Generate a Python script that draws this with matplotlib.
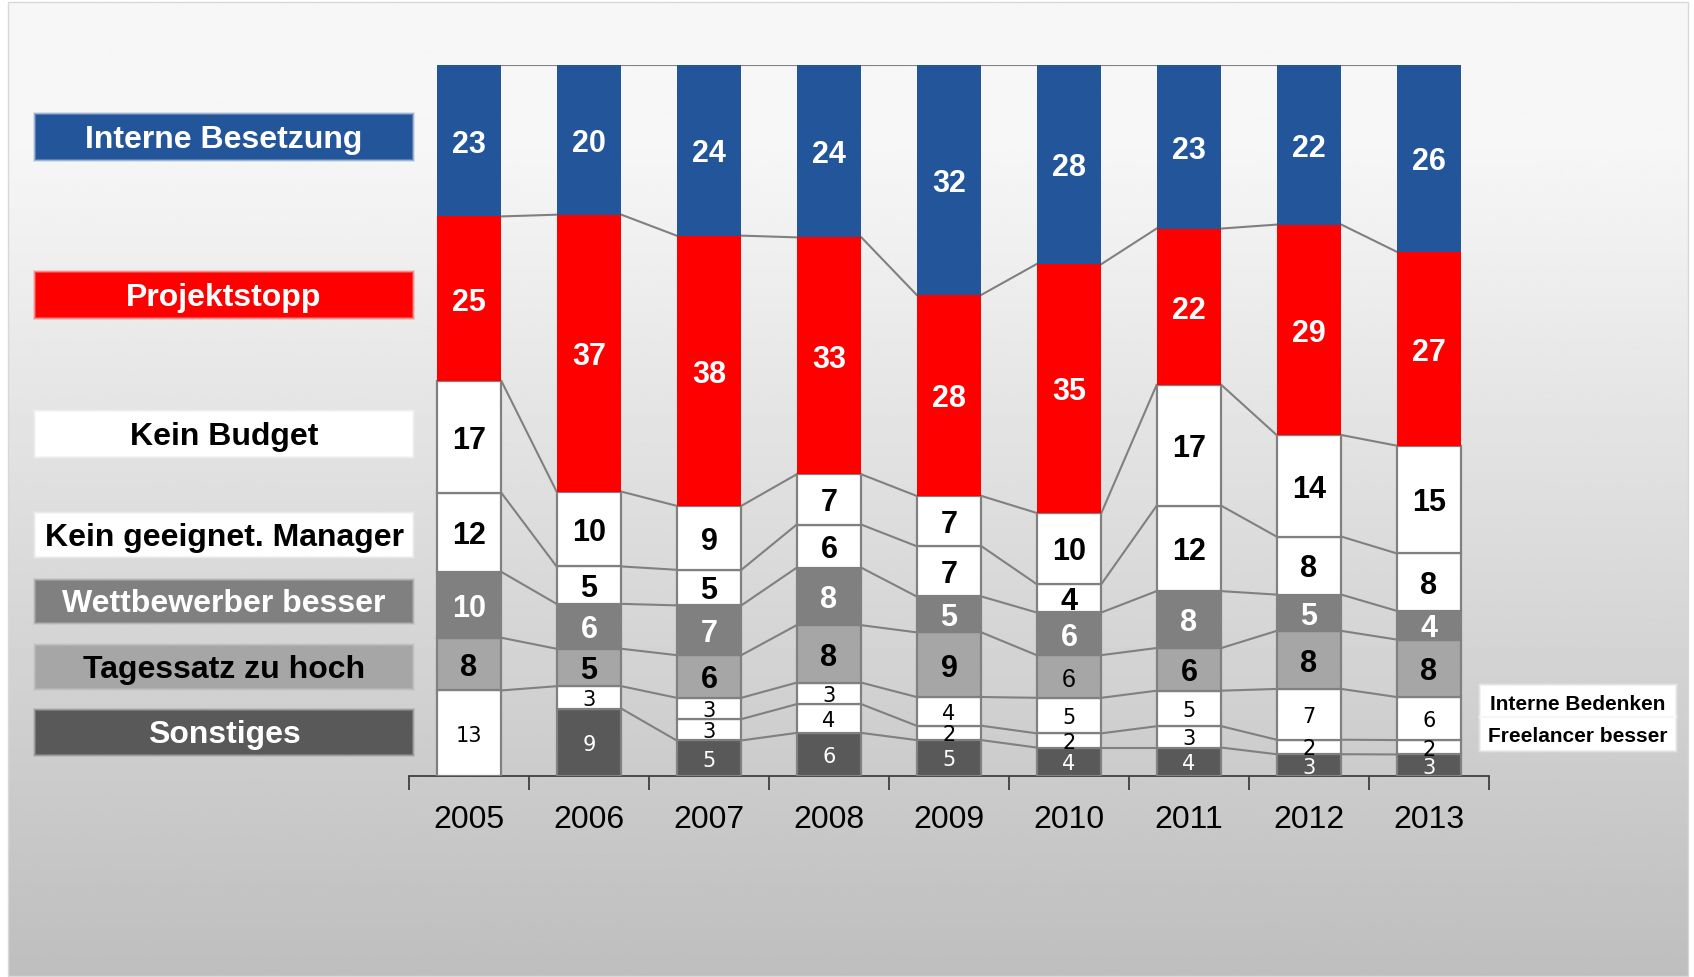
import numpy as np
import matplotlib
matplotlib.use("Agg")
import matplotlib.pyplot as plt
from matplotlib.patches import Rectangle

plt.rcParams["font.family"] = ["Liberation Sans", "DejaVu Sans"]

nan = np.nan
years = ["2005", "2006", "2007", "2008", "2009", "2010", "2011", "2012", "2013"]

# series from bottom to top (counts per year, stacked to 100 %)
sonstiges = [nan, 9, 5, 6, 5, 4, 4, 3, 3]
freelancer_besser = [nan, nan, 3, 4, 2, 2, 3, 2, 2]
interne_bedenken = [13, 3, 3, 3, 4, 5, 5, 7, 6]
tagessatz = [8, 5, 6, 8, 9, 6, 6, 8, 8]
wettbewerber = [10, 6, 7, 8, 5, 6, 8, 5, 4]
kein_manager = [12, 5, 5, 6, 7, 4, 12, 8, 8]
kein_budget = [17, 10, 9, 7, 7, 10, 17, 14, 15]
projektstopp = [25, 37, 38, 33, 28, 35, 22, 29, 27]
interne_besetzung = [23, 20, 24, 24, 32, 28, 23, 22, 26]

series = [
    # name, values, fill, text colour, big label
    ("Sonstiges", sonstiges, "#595959", "white", False),
    ("Freelancer besser", freelancer_besser, "white", "black", False),
    ("Interne Bedenken", interne_bedenken, "white", "black", False),
    ("Tagessatz zu hoch", tagessatz, "#a6a6a6", "black", True),
    ("Wettbewerber besser", wettbewerber, "#808080", "white", True),
    ("Kein geeignet. Manager", kein_manager, "white", "black", True),
    ("Kein Budget", kein_budget, "white", "black", True),
    ("Projektstopp", projektstopp, "#ff0000", "white", True),
    ("Interne Besetzung", interne_besetzung, "#23559b", "white", True),
]
# the one label the original shows in plain style
plain_labels = {("Tagessatz zu hoch", "2010")}

W, H = 1694, 978
fig = plt.figure(figsize=(W / 100, H / 100), dpi=100, facecolor="white")

# gradient panel behind everything
bg = fig.add_axes([8 / W, 1 - 977 / H, 1680 / W, 974 / H], zorder=-5)
rows = np.linspace(0, 1, 400)
shade = np.clip((rows - 0.15) / 0.85, 0, 1)
grey = 0.965 - shade * (0.965 - 0.745)
bg.imshow(np.repeat(grey[:, None], 2, axis=1), cmap="gray", vmin=0, vmax=1,
          aspect="auto", extent=[0, 1, 1, 0])
bg.set_axis_off()
fig.patches.append(Rectangle((8 / W, 1 - 977 / H), 1680 / W, 974 / H,
                             transform=fig.transFigure, fill=False,
                             edgecolor="#d8d8d8", lw=1.0, zorder=-4))

ax = fig.add_axes([409 / W, 1 - 777 / H, 1080 / W, 711 / H])
ax.set_facecolor("none")

x = np.arange(len(years))
width = 0.54
nudge = 0.004  # labels sit a touch below the segment centre
data = np.array([s[1] for s in series], dtype=float)
totals = np.nansum(data, axis=0)
frac = np.nan_to_num(data) / totals
tops = np.cumsum(frac, axis=0)
bottoms = tops - frac

for k, (name, vals, fill, tcol, big) in enumerate(series):
    edge = "none" if fill in ("#ff0000", "#23559b") else "#808080"
    ax.bar(x, frac[k], width=width, bottom=bottoms[k], color=fill,
           edgecolor=edge, linewidth=1.6, zorder=3)
    for i, v in enumerate(vals):
        if np.isnan(v):
            continue
        yc = bottoms[k, i] + frac[k, i] / 2 - nudge
        if big and (name, years[i]) not in plain_labels:
            ax.text(x[i], yc, f"{int(v)}", ha="center", va="center",
                    fontsize=22, fontweight="bold", color=tcol, zorder=5)
        elif big:
            ax.text(x[i], yc, f"{int(v)}", ha="center", va="center",
                    fontsize=18, color=tcol, zorder=5)
        else:
            ax.text(x[i], yc + nudge / 2, f"{int(v)}", ha="center", va="center",
                    fontsize=15, color=tcol, family="DejaVu Sans", zorder=5)
    # series lines between neighbouring bars
    for i in range(len(years) - 1):
        if np.isnan(vals[i]) or np.isnan(vals[i + 1]):
            continue
        ax.plot([x[i] + width / 2, x[i + 1] - width / 2],
                [tops[k, i], tops[k, i + 1]], color="#808080", lw=1.5, zorder=2)

ax.set_xlim(-0.5, len(years) - 0.5)
ax.set_ylim(0, 1)
ax.set_yticks([])
for side in ("left", "right", "top"):
    ax.spines[side].set_visible(False)
ax.spines["bottom"].set_color("#404040")
ax.spines["bottom"].set_linewidth(1.3)
ax.set_xticks(x)
ax.set_xticklabels(years, fontsize=23)
ax.tick_params(axis="x", which="major", length=0, pad=20)
ax.set_xticks(np.arange(len(years) + 1) - 0.5, minor=True)
ax.tick_params(axis="x", which="minor", length=10, width=1.3, color="#404040",
               direction="out")


def legend_box(x0, y0, x1, y1, fill, text, tcol, size):
    # soft glow around the box like the original slide
    for grow, alpha in ((3, 0.15), (2, 0.3), (1, 0.55)):
        fig.patches.append(Rectangle(((x0 - grow) / W, 1 - (y1 + grow) / H),
                                     (x1 - x0 + 2 * grow) / W, (y1 - y0 + 2 * grow) / H,
                                     transform=fig.transFigure, facecolor=fill,
                                     edgecolor="none", alpha=alpha, zorder=1))
    fig.patches.append(Rectangle((x0 / W, 1 - y1 / H), (x1 - x0) / W, (y1 - y0) / H,
                                 transform=fig.transFigure, facecolor=fill,
                                 edgecolor="none", zorder=2))
    fig.text((x0 + x1) / 2 / W, 1 - ((y0 + y1) / 2 + 2) / H, text, ha="center",
             va="center", fontsize=size, fontweight="bold", color=tcol, zorder=3)


left_boxes = [
    ("Interne Besetzung", 116, 160),
    ("Projektstopp", 274, 318),
    ("Kein Budget", 413, 457),
    ("Kein geeignet. Manager", 515, 557),
    ("Wettbewerber besser", 582, 623),
    ("Tagessatz zu hoch", 647, 689),
    ("Sonstiges", 712, 755),
]
style = {s[0]: (s[2], s[3]) for s in series}
for name, y0, y1 in left_boxes:
    fill, tcol = style[name]
    legend_box(36, y0, 412, y1, fill, name, tcol, 23)

legend_box(1481, 687, 1675, 717, "white", "Interne Bedenken", "black", 15)
legend_box(1481, 719, 1675, 751, "white", "Freelancer besser", "black", 15)

fig.savefig("out.png", dpi=100, facecolor="white")
